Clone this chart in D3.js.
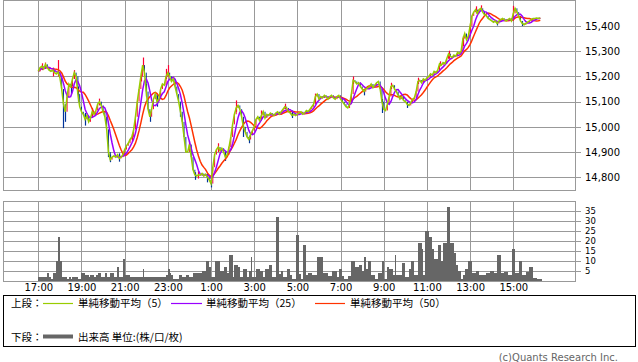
<!DOCTYPE html>
<html><head><meta charset="utf-8">
<script src="https://cdn.jsdelivr.net/npm/d3@7"></script>
<style>body{margin:0;background:#fff}svg{display:block}</style>
</head><body><svg id="c" width="638" height="362"></svg>
<script>
// ---- data (5-minute steps starting 17:00) ----
const startTime = "2000-01-01T17:00:00";
const stepMinutes = 5;
const closes = [
15220,15235,15240,15230,15248,15235,15225,15220,15225,15215,15210,15218,15195,15150,15090,15060,15120,15170,15160,15190,15215,15200,15130,15080,15060,
15050,15030,15045,15020,15035,15060,15050,15065,15090,15100,15085,15060,15040,14990,14900,14870,14880,14885,14880,14890,14875,14880,14890,14910,
14925,14935,14950,14960,14990,15040,15100,15150,15200,15245,15215,15140,15070,15040,15070,15110,15130,15100,15110,15150,15170,15165,15200,15215,
15200,15180,15190,15160,15130,15100,15060,15020,14960,14900,14900,14930,14880,14830,14810,14805,14810,14808,14815,14805,14812,14800,14790,14775,
14840,14890,14910,14920,14905,14915,14900,14880,14890,14920,14960,15010,15050,15075,15085,15070,15040,15000,14980,14960,14950,14970,14985,15000,
15030,15040,15025,15045,15060,15035,15050,15045,15055,15050,15045,15055,15060,15050,15060,15070,15080,15075,15060,15055,15045,15050,15045,15050,
15055,15060,15050,15055,15065,15060,15070,15080,15090,15120,15130,15110,15120,15115,15125,15120,15110,15120,15125,15115,15110,15120,15125,15110,
15100,15090,15080,15075,15090,15130,15185,15180,15170,15175,15160,15150,15140,15150,15155,15160,15170,15155,15165,15175,15180,15150,15100,15070,
15065,15090,15120,15160,15165,15150,15140,15125,15110,15120,15105,15100,15090,15085,15095,15110,15115,15140,15180,15185,15175,15190,15185,15195,
15200,15210,15205,15220,15215,15225,15250,15245,15255,15250,15270,15290,15280,15275,15285,15280,15295,15290,15300,15350,15370,15345,15360,15400,
15440,15455,15465,15450,15465,15470,15455,15445,15440,15430,15425,15420,15415,15420,15410,15420,15425,15430,15425,15420,15425,15430,15420,15450,
15470,15455,15440,15420,15410,15405,15410,15415,15420,15425,15430,15430,15432,15430,15432
];
// notable candle extremes: [bar index, high, low]
const wicks = [
[2,15252,15225],[4,15255,15230],[8,15235,15200],[11,15265,15200],[14,15100,14995],[15,15080,15020],
[18,15175,15130],[20,15225,15190],[22,15160,15100],[26,15055,15005],[30,15075,15040],[34,15112,15085],
[39,14930,14880],[40,14890,14860],[45,14895,14862],[52,14970,14940],[57,15215,15180],[58,15275,15225],
[60,15170,15120],[62,15060,15020],[66,15125,15080],[71,15230,15190],[72,15245,15200],[79,15080,15040],
[84,14945,14905],[87,14820,14790],[89,14825,14795],[94,14815,14780],[96,14790,14760],[100,14935,14900],
[104,14895,14865],[110,15105,15060],[114,15010,14960],[117,14965,14935],[124,15065,15030],[137,15092,15070],
[141,15065,15035],[154,15132,15100],[175,15200,15170],[181,15148,15125],[191,15110,15055],[196,15175,15150],
[205,15098,15075],[211,15195,15170],[223,15260,15240],[228,15302,15270],[236,15360,15320],[240,15410,15370],
[243,15478,15450],[246,15482,15460],[255,15420,15402],[264,15480,15445],[269,15418,15400]
];
const volumes = [
2,2,2,2,2,4,2,1,4,4,10,22,10,2,2,2,1,2,1,2,2,2,1,1,
4,4,3,3,2,3,3,2,3,4,4,2,2,4,2,2,4,4,2,2,7,2,2,11,
3,3,3,2,2,2,2,2,2,2,6,2,2,2,2,2,2,2,2,2,2,2,2,3,
6,4,3,1,1,1,3,3,2,2,3,3,2,2,4,4,4,4,4,5,5,10,10,7,
2,2,10,10,10,5,5,7,7,4,13,13,2,8,8,7,2,2,6,6,2,5,12,2,
2,6,6,5,5,2,6,6,8,8,2,2,32,32,3.5,5,2,2,6,6,3,1,1,23,
23,3.5,1,18,18,3,4,4,3,3,3,12,12,12,4,4,4,2.5,2.5,5,5,5,2,6,
6,2.5,1,1,2.5,2.5,10,10,7,7,8,8,5,12,6,10,10,3,3,1,1,4,4,10,
1,1,7,6,6,3,13,3,3,3,9,9,2,2,6,10,10,3,3,19,19,16,3,25,
25,22,22,16,11,11,18,18,10,19,19,37,37,19,19,14,8,5,5,1,3,6,6,10,
10,4,4,5,5,3,3,3,3,4,4,5,5,4,4,13,13,4,4,4.5,4.5,3,3,16,
16,4,4,10,10,3,3,4.5,4.5,7,7,1.5,1.5,1,1,1
];
const maMinutes = [5, 25, 50];
const maColors = ["#99cc00", "#9900ff", "#ff3300"];
const maLabels = ["単純移動平均（5）", "単純移動平均（25）", "単純移動平均（50）"];
const priceTicks = [14800, 14900, 15000, 15100, 15200, 15300, 15400];
const volumeTicks = [5, 10, 15, 20, 25, 30, 35];
const timeTickLabels = ["17:00","19:00","21:00","23:00","1:00","3:00","5:00","7:00","9:00","11:00","13:00","15:00"];

// ---- layout ----
const L = 3, R = 575;
const mainTop = 0, mainBottom = 190;
const volTop = 201, volBottom = 281;
const grid = "#999999";

const t0 = new Date(startTime);
const tAt = i => new Date(t0.getTime() + i * stepMinutes * 60000);
const times = closes.map((_, i) => tAt(i));
const tickTimes = timeTickLabels.map((_, k) => new Date(t0.getTime() + k * 2 * 3600000));

const x = d3.scaleTime().domain([tickTimes[0], tickTimes[11]]).range([38.3, 513.3]);
const y = d3.scaleLinear().domain([14800, 15400]).range([177.3, 26]);
const yv = d3.scaleLinear().domain([0, 40]).range([volBottom, volTop]);

const svg = d3.select("#c");
const font = "DejaVu Sans, Noto Sans CJK JP, sans-serif";

// price grid + labels
const pa = svg.append("g").attr("transform", `translate(${L},0)`)
  .call(d3.axisRight(y).tickValues(priceTicks).tickSize(R - L + 6).tickPadding(4).tickFormat(d3.format(",")));
pa.select(".domain").remove();
pa.selectAll("line").attr("stroke", grid).attr("shape-rendering", "crispEdges");
pa.selectAll("text").attr("font-family", font).attr("font-size", 10).attr("fill", "#000");

// volume grid + labels
const va = svg.append("g").attr("transform", `translate(${L},0)`)
  .call(d3.axisRight(yv).tickValues(volumeTicks).tickSize(R - L + 6).tickPadding(4));
va.select(".domain").remove();
va.selectAll("line").attr("stroke", grid).attr("shape-rendering", "crispEdges");
va.selectAll("text").attr("font-family", font).attr("font-size", 8.5).attr("fill", "#000");

// vertical grids
const ga = svg.append("g").attr("transform", `translate(0,${mainTop})`)
  .call(d3.axisBottom(x).tickValues(tickTimes).tickSize(mainBottom - mainTop).tickFormat(""));
ga.select(".domain").remove();
ga.selectAll("line").attr("stroke", grid).attr("shape-rendering", "crispEdges");

const ta = svg.append("g").attr("transform", `translate(0,${volTop})`)
  .call(d3.axisBottom(x).tickValues(tickTimes).tickSize(volBottom - volTop).tickPadding(3)
    .tickFormat((d, k) => timeTickLabels[k]));
ta.select(".domain").remove();
ta.selectAll("line").attr("stroke", grid).attr("shape-rendering", "crispEdges");
ta.selectAll("text").attr("font-family", font).attr("font-size", 10).attr("fill", "#000");

// frames
[[mainTop, mainBottom], [volTop, volBottom]].forEach(([a, b]) => {
  svg.append("rect").attr("x", L + 0.5).attr("y", a + 0.5).attr("width", R - L).attr("height", b - a)
    .attr("fill", "none").attr("stroke", grid);
});

// volume bars (pixel-snapped, contiguous)
svg.append("g").selectAll("rect").data(volumes).join("rect")
  .attr("x", (d, i) => Math.round(x(times[i])))
  .attr("width", (d, i) => Math.max(1, Math.round(x(tAt(i + 1))) - Math.round(x(times[i]))))
  .attr("y", d => Math.round(yv(d)))
  .attr("height", d => volBottom - Math.round(yv(d)))
  .attr("fill", "#666666")
  .attr("shape-rendering", "crispEdges");

// candle bodies (previous close -> close)
const up = i => i === 0 || closes[i] >= closes[i - 1];
svg.append("g").selectAll("line").data(closes.slice(1)).join("line")
  .attr("x1", (d, i) => x(times[i + 1])).attr("x2", (d, i) => x(times[i + 1]))
  .attr("y1", (d, i) => y(closes[i])).attr("y2", d => y(d))
  .attr("stroke", (d, i) => up(i + 1) ? "#ff0033" : "#003399")
  .attr("stroke-width", 1);

// candle wicks
svg.append("g").selectAll("line").data(wicks).join("line")
  .attr("x1", d => Math.round(x(times[d[0]])) + 0.5).attr("x2", d => Math.round(x(times[d[0]])) + 0.5)
  .attr("y1", d => y(d[1])).attr("y2", d => y(d[2]))
  .attr("stroke", d => up(d[0]) ? "#ff0033" : "#003399")
  .attr("stroke-width", 1.2);

// moving averages (50 drawn first, 5 on top)
const ma = w => closes.map((_, i) => d3.mean(closes.slice(Math.max(0, i - w + 1), i + 1)));
const line = d3.line().x((d, i) => x(times[i])).y(d => y(d));
[2, 1, 0].forEach(k => {
  svg.append("path").datum(ma(maMinutes[k] / stepMinutes)).attr("d", line)
    .attr("fill", "none").attr("stroke", maColors[k]).attr("stroke-width", 1.5);
});

// legend
svg.append("rect").attr("x", 3.5).attr("y", 295.5).attr("width", 632).attr("height", 51)
  .attr("fill", "none").attr("stroke", "#000");
const lf = "Noto Sans CJK JP, sans-serif";
const txt = (s, tx, ty, size = 10.5, fill = "#000") => svg.append("text").attr("x", tx).attr("y", ty)
  .attr("font-family", lf).attr("font-size", size).attr("fill", fill).text(s);
txt("上段：", 11, 307);
txt("下段：", 11, 340.5);
const legX = [[43, 73, 78], [171, 202, 206], [315, 345, 350]];
legX.forEach(([a, b, c], k) => {
  svg.append("line").attr("x1", a).attr("x2", b).attr("y1", 303.5).attr("y2", 303.5)
    .attr("stroke", maColors[k]).attr("stroke-width", 1.2);
  txt(maLabels[k], c, 307);
});
svg.append("line").attr("x1", 43).attr("x2", 73).attr("y1", 336.5).attr("y2", 336.5)
  .attr("stroke", "#666").attr("stroke-width", 4);
txt("出来高 単位:(株/口/枚)", 78, 340.5);
svg.append("text").attr("x", 618).attr("y", 361).attr("text-anchor", "end")
  .attr("font-family", "DejaVu Sans, sans-serif").attr("font-size", 10).attr("fill", "#666")
  .text("(c)Quants Research Inc.");
</script></body></html>
